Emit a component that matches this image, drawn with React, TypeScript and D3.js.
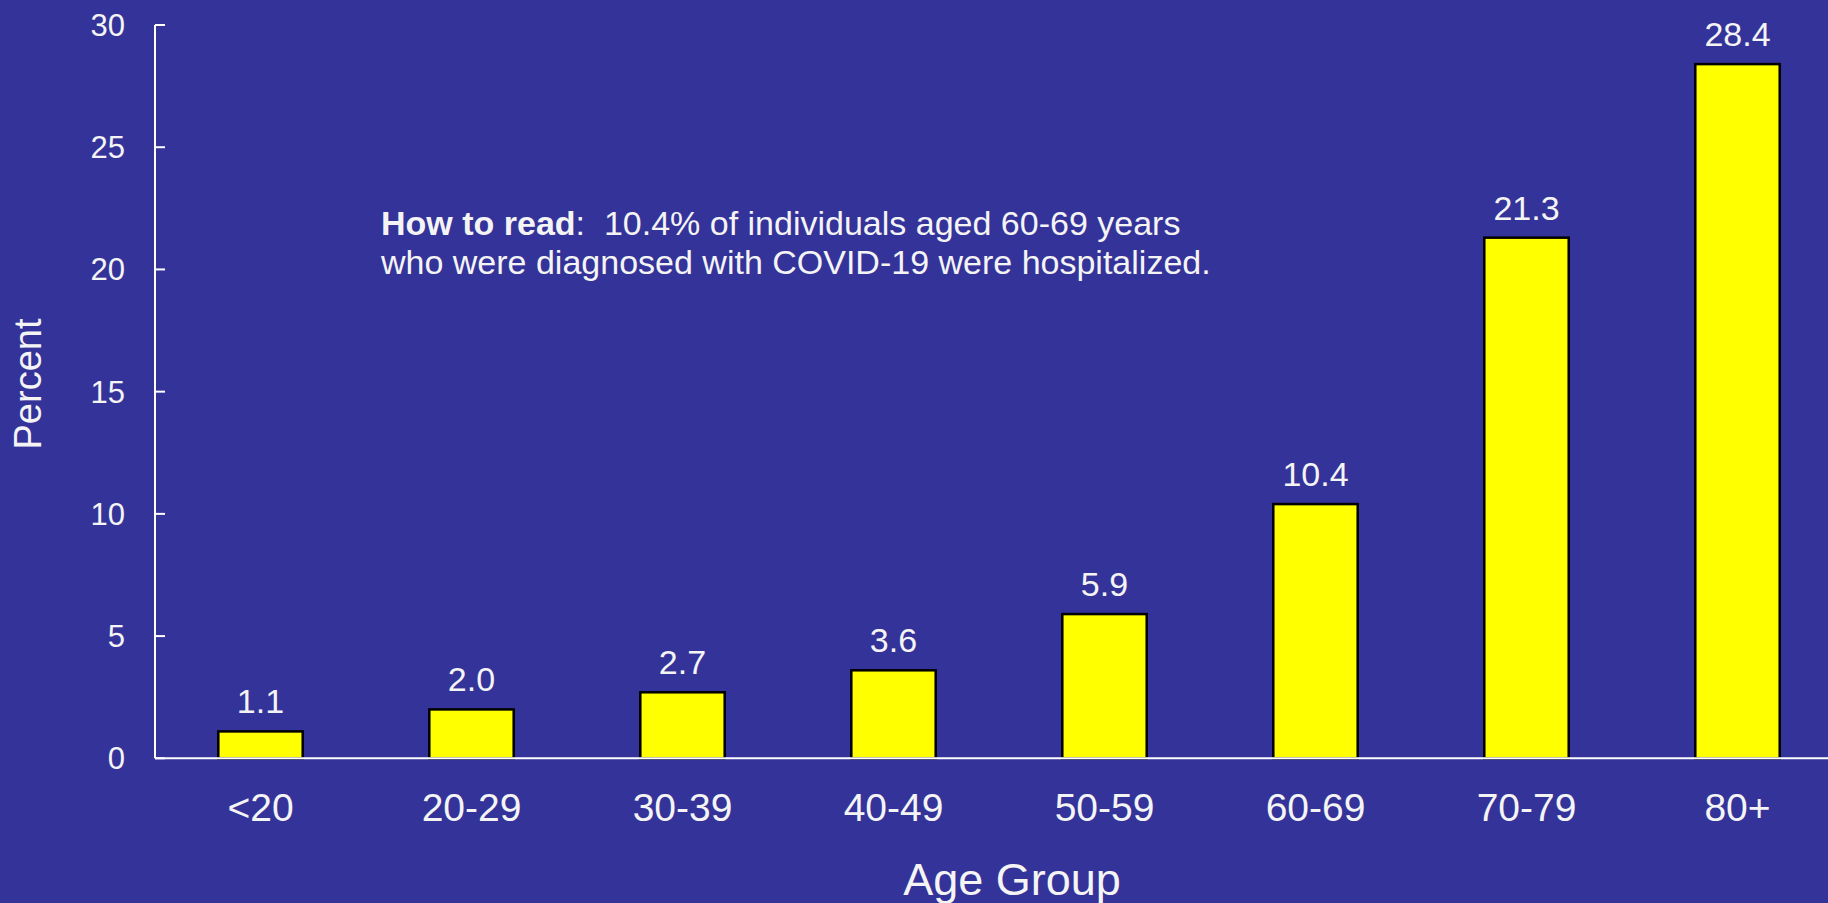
import React, { useEffect, useRef } from "react";
import * as d3 from "d3";

const categories = ["<20", "20-29", "30-39", "40-49", "50-59", "60-69", "70-79", "80+"];
const values = [1.1, 2.0, 2.7, 3.6, 5.9, 10.4, 21.3, 28.4];
const yTicks = [0, 5, 10, 15, 20, 25, 30];
const xTitle = "Age Group";
const yTitle = "Percent";
const noteBold = "How to read";
const noteLine1 = ":  10.4% of individuals aged 60-69 years";
const noteLine2 = "who were diagnosed with COVID-19 were hospitalized.";

const W = 1828;
const H = 903;
const BG = "#343399";
const TXT = "#f4f4f4";
const FONT = "'Liberation Sans', Arial, Helvetica, sans-serif";

export default function App() {
  const ref = useRef<SVGSVGElement | null>(null);

  useEffect(() => {
    document.body.style.margin = "0";
    const svg = d3.select(ref.current);
    svg.selectAll("*").remove();

    const x = d3
      .scaleBand<string>()
      .domain(categories)
      .range([155, 1843])
      .paddingInner(0.6)
      .paddingOuter(0.3);
    const y = d3.scaleLinear().domain([0, 30]).range([758.3, 25]);

    svg.append("rect").attr("width", W).attr("height", H).attr("fill", BG);

    // bars
    svg
      .append("g")
      .selectAll("rect")
      .data(values)
      .join("rect")
      .attr("x", (_d, i) => x(categories[i])!)
      .attr("y", (d) => y(d))
      .attr("width", x.bandwidth())
      .attr("height", (d) => y(0) - y(d))
      .attr("fill", "#ffff00")
      .attr("stroke", "#000")
      .attr("stroke-width", 2.5);

    // value labels
    svg
      .append("g")
      .selectAll("text")
      .data(values)
      .join("text")
      .attr("x", (_d, i) => x(categories[i])! + x.bandwidth() / 2)
      .attr("y", (d) => y(d) - 18)
      .attr("text-anchor", "middle")
      .attr("font-family", FONT)
      .attr("font-size", 34)
      .attr("fill", TXT)
      .text((d) => d.toFixed(1));

    // y axis
    const yAxis = svg.append("g");
    yAxis
      .append("line")
      .attr("x1", 155)
      .attr("x2", 155)
      .attr("y1", y(30))
      .attr("y2", y(0))
      .attr("stroke", "#fff")
      .attr("stroke-width", 2);
    yAxis
      .selectAll("line.tick")
      .data(yTicks)
      .join("line")
      .attr("class", "tick")
      .attr("x1", 155)
      .attr("x2", 165)
      .attr("y1", (d) => y(d))
      .attr("y2", (d) => y(d))
      .attr("stroke", "#fff")
      .attr("stroke-width", 2);
    yAxis
      .selectAll("text")
      .data(yTicks)
      .join("text")
      .attr("x", 125)
      .attr("y", (d) => y(d) + 11)
      .attr("text-anchor", "end")
      .attr("font-family", FONT)
      .attr("font-size", 31)
      .attr("fill", TXT)
      .text((d) => String(d));

    // x axis
    svg
      .append("line")
      .attr("x1", 155)
      .attr("x2", W)
      .attr("y1", y(0))
      .attr("y2", y(0))
      .attr("stroke", "#fff")
      .attr("stroke-width", 2);
    svg
      .append("g")
      .selectAll("text")
      .data(categories)
      .join("text")
      .attr("x", (d) => x(d)! + x.bandwidth() / 2)
      .attr("y", 821)
      .attr("text-anchor", "middle")
      .attr("font-family", FONT)
      .attr("font-size", 39)
      .attr("fill", TXT)
      .text((d) => d);

    // titles
    svg
      .append("text")
      .attr("x", 1012)
      .attr("y", 895)
      .attr("text-anchor", "middle")
      .attr("font-family", FONT)
      .attr("font-size", 45)
      .attr("fill", TXT)
      .text(xTitle);
    svg
      .append("text")
      .attr("transform", "translate(41,384) rotate(-90)")
      .attr("text-anchor", "middle")
      .attr("font-family", FONT)
      .attr("font-size", 38)
      .attr("fill", TXT)
      .text(yTitle);

    // annotation
    const note = svg
      .append("text")
      .attr("font-family", FONT)
      .attr("font-size", 34)
      .attr("fill", TXT)
      .attr("xml:space", "preserve")
      .style("white-space", "pre");
    const l1 = note.append("tspan").attr("x", 381).attr("y", 235);
    l1.append("tspan").attr("font-weight", "bold").text(noteBold);
    l1.append("tspan").text(noteLine1);
    note.append("tspan").attr("x", 381).attr("y", 274).text(noteLine2);
  }, []);

  return (
    <svg
      ref={ref}
      width={W}
      height={H}
      style={{ position: "absolute", left: 0, top: 0, display: "block" }}
    />
  );
}
